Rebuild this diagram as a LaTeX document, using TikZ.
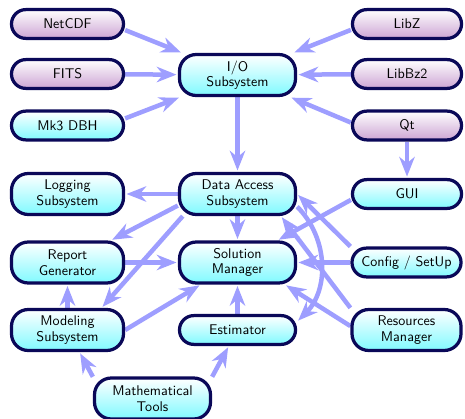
\documentclass[tikz,border=0pt]{standalone}
\usetikzlibrary{arrows.meta}
\pgfdeclarelayer{background}
\pgfsetlayers{background,main}
\definecolor{nodeborder}{RGB}{10,8,88}
\definecolor{linkblue}{RGB}{158,158,255}
\definecolor{libpurple}{RGB}{205,165,212}
\definecolor{cyanbot}{RGB}{128,250,255}
\begin{document}
\begin{tikzpicture}[x=0.025cm,y=0.025cm,
  box/.style={draw=nodeborder, line width=2.3pt, font=\sffamily\fontsize{10}{11}\selectfont, align=center, inner sep=2pt, text=black},
  cyanbox/.style={box, top color=white, bottom color=cyanbot},
  libbox/.style={box, top color=white, bottom color=libpurple},
  colL/.style={minimum width=2.8cm},
  colM/.style={minimum width=2.9cm},
  colR/.style={minimum width=2.725cm},
  one/.style={minimum height=0.72cm, rounded corners=10.2pt},
  two/.style={minimum height=1.025cm, rounded corners=12pt},
  link/.style={draw=linkblue, line width=3.2pt, -{Stealth[length=14pt,width=11pt,inset=4.5pt]}, shorten >=1pt}
]
\useasboundingbox (0,0) rectangle (465,-419);
% top rows
\node[libbox,colL,one] (netcdf) at (67.5,-24) {NetCDF};
\node[libbox,colL,one] (fits) at (67.5,-74) {FITS};
\node[cyanbox,colL,one] (mk3) at (67.5,-125.5) {Mk3 DBH};
\node[cyanbox,colM,two] (io) at (237.5,-75) {I/O\\Subsystem};
\node[libbox,colR,one] (libz) at (407,-24) {LibZ};
\node[libbox,colR,one] (libbz2) at (407,-74) {LibBz2};
\node[libbox,colR,one] (qt) at (407,-125.5) {Qt};
% middle rows
\node[cyanbox,colL,two] (log) at (67.5,-194) {Logging\\Subsystem};
\node[cyanbox,colM,two] (da) at (237.5,-194) {Data Access\\Subsystem};
\node[cyanbox,colR,one] (gui) at (407,-194) {GUI};
\node[cyanbox,colL,two] (rep) at (67.5,-262.5) {Report\\Generator};
\node[cyanbox,colM,two] (sol) at (237.5,-262.5) {Solution\\Manager};
\node[cyanbox,colR,one] (cfg) at (406.5,-262.5) {Config / SetUp};
\node[cyanbox,colL,two] (mod) at (67.5,-330) {Modeling\\Subsystem};
\node[cyanbox,colM,one] (est) at (237.5,-330) {Estimator};
\node[cyanbox,colR,two] (res) at (406.5,-330) {Resources\\Manager};
\node[cyanbox,colM,two] (math) at (152.5,-398.5) {Mathematical\\Tools};
\begin{pgfonlayer}{background}
\draw[link] (netcdf.-6) -- (io);
\draw[link] (fits) -- (io);
\draw[link] (mk3.7) -- (io);
\draw[link] (libz.186) -- (io);
\draw[link] (libbz2) -- (io);
\draw[link] (qt.177) -- (io);
\draw[link] (qt) -- (gui);
\draw[link] (io) -- (da);
\draw[link] (da) -- (log);
\draw[link] (da.191) -- (rep.27);
\draw[link] (da.202) -- (mod.33);
\draw[link] (da) -- (sol);
\draw[link] (rep) -- (sol);
\draw[link] (mod) -- (rep);
\draw[link] (mod.east) -- (sol);
\draw[link] (est) -- (sol);
\draw[link] (math.160) -- (mod);
\draw[link] (math.20) -- (est);
\draw[link] (gui.186) -- (sol);
\draw[link] (cfg.north west) -- (da.east);
\draw[link] (cfg) -- (sol);
\draw[link] (res.north west) -- (da.-27);
\draw[link] (res.176) -- (sol.-25);
\draw[link] (da.-12) to[bend left=45] (est.8);
\end{pgfonlayer}
\end{tikzpicture}
\end{document}
